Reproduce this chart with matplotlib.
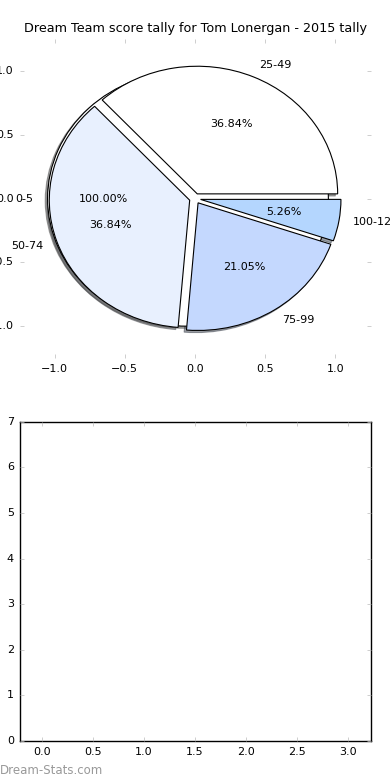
import matplotlib
matplotlib.use("Agg")
import matplotlib.pyplot as plt

# data
titlu = "Dream Team score tally for Tom Lonergan - 2015 tally"
fundal_label = ["0-5"]
fundal_val = [1]
categorii = ["25-49", "50-74", "75-99", "100-124"]
valori = [7, 7, 4, 1]
culori = ["#ffffff", "#e8f0fe", "#c4d8fe", "#b4d6fe"]
ticks_pie = [-1.0, -0.5, 0.0, 0.5, 1.0]
ticks_x_jos = [0.0, 0.5, 1.0, 1.5, 2.0, 2.5, 3.0]
ticks_y_jos = [0, 1, 2, 3, 4, 5, 6, 7]

plt.style.use("classic")
fig = plt.figure(figsize=(3.9, 7.8), dpi=100, facecolor="white")
fig.subplots_adjust(left=0.05, right=0.95, top=0.95, bottom=0.05, hspace=0.2)

ax = fig.add_subplot(2, 1, 1)
wp = {"edgecolor": "black", "linewidth": 0.8}
umbra = {"ox": -0.012, "oy": -0.012}
ax.pie(fundal_val, labels=fundal_label, colors=["white"], explode=[0.05],
       radius=1, shadow=umbra, autopct="%1.2f%%", startangle=0,
       wedgeprops=wp, textprops={"fontsize": 8})
ax.pie(valori, labels=categorii, colors=culori, explode=[0.04] * len(valori),
       radius=1, shadow=umbra, autopct="%1.2f%%", startangle=0,
       wedgeprops=wp, textprops={"fontsize": 8})
ax.set_aspect("auto")
ax.set_frame_on(False)
ax.set_xlim(-1.25, 1.25)
ax.set_ylim(-1.25, 1.25)
ax.set_xticks(ticks_pie)
ax.set_yticks(ticks_pie)
ax.tick_params(axis="both", which="both", direction="in", top=True, right=True,
               color="#bbbbbb", labelsize=8, length=3)
ax.set_title(titlu, fontsize=9.2)

ax2 = fig.add_subplot(2, 1, 2)
ax2.set_xlim(-0.22, 3.22)
ax2.set_ylim(0, 7)
ax2.set_xticks(ticks_x_jos)
ax2.set_yticks(ticks_y_jos)
ax2.tick_params(axis="both", which="both", direction="in", top=True, right=True,
                color="#bbbbbb", labelsize=8, length=3)

fig.text(0.0, 0.004, "Dream-Stats.com", color="#999999", fontsize=8.5, ha="left", va="bottom")

fig.savefig("out.png", dpi=100, facecolor="white")
